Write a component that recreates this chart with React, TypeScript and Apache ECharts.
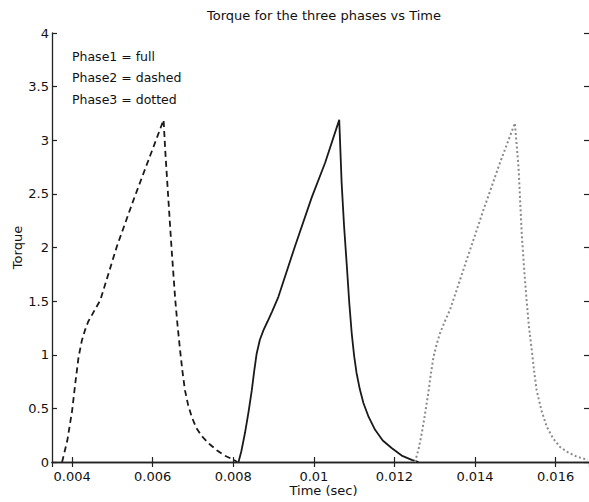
import React, { useEffect, useRef } from "react";
import * as echarts from "echarts";

const titleText = "Torque for the three phases vs Time";
const xName = "Time (sec)";
const yName = "Torque";
const legendLines = ["Phase1 = full", "Phase2 = dashed", "Phase3 = dotted"];

// Phase 1 (solid)
const phase1T = [0.00813, 0.0082, 0.00829, 0.00838, 0.00846, 0.00852, 0.00858, 0.00866, 0.00875, 0.00885, 0.00896, 0.00912, 0.00953, 0.00995, 0.01028, 0.01063, 0.01069, 0.01075, 0.01082, 0.01088, 0.01094, 0.011, 0.01106, 0.01114, 0.01123, 0.01136, 0.01152, 0.01171, 0.01193, 0.01218, 0.01243, 0.0126];
const phase1V = [0, 0.1, 0.27, 0.47, 0.67, 0.85, 1.01, 1.14, 1.23, 1.31, 1.4, 1.54, 2.01, 2.47, 2.79, 3.19, 2.6, 2.2, 1.82, 1.48, 1.2, 0.99, 0.83, 0.68, 0.55, 0.42, 0.3, 0.2, 0.13, 0.06, 0.02, 0];

// Phase 2 (dashed)
const phase2T = [0.00375, 0.00388, 0.004, 0.00408, 0.00416, 0.00424, 0.00432, 0.0044, 0.00449, 0.0047, 0.00511, 0.00552, 0.00594, 0.00627, 0.00631, 0.00639, 0.00647, 0.00656, 0.00662, 0.00668, 0.00674, 0.0068, 0.00688, 0.00697, 0.00708, 0.00722, 0.0074, 0.00759, 0.00778, 0.00796, 0.0081];
const phase2V = [0, 0.2, 0.48, 0.74, 0.98, 1.13, 1.23, 1.31, 1.37, 1.51, 2.01, 2.44, 2.86, 3.19, 2.91, 2.44, 1.98, 1.51, 1.26, 1.04, 0.84, 0.67, 0.53, 0.42, 0.32, 0.24, 0.17, 0.11, 0.06, 0.03, 0];

// Phase 3 (dotted)
const phase3T = [0.01251, 0.0126, 0.01268, 0.01276, 0.01284, 0.0129, 0.01297, 0.01305, 0.01313, 0.01325, 0.01338, 0.01379, 0.01421, 0.01462, 0.01499, 0.01508, 0.01516, 0.01522, 0.01528, 0.01534, 0.01541, 0.01547, 0.01553, 0.01565, 0.01578, 0.01594, 0.01611, 0.01631, 0.01652, 0.0168];
const phase3V = [0, 0.12, 0.27, 0.45, 0.64, 0.81, 0.98, 1.1, 1.2, 1.31, 1.42, 1.88, 2.35, 2.79, 3.16, 2.75, 2.13, 1.8, 1.51, 1.26, 1.04, 0.84, 0.67, 0.48, 0.33, 0.22, 0.14, 0.09, 0.05, 0.02];

const xMin = 0.0035;
const xMax = 0.01683;
const yMin = 0;
const yMax = 4;
const yStep = 0.5;
const xStep = 0.002;

const FONT = "'DejaVu Sans', 'Liberation Sans', Arial, sans-serif";
const FS = 13;

const zip = (t: number[], v: number[]) => t.map((x, i) => [x, v[i]]);

export default function App() {
  const ref = useRef<HTMLDivElement>(null);
  useEffect(() => {
    if (!ref.current) return;
    const chart = echarts.init(ref.current, undefined, { renderer: "svg" });
    const axisLine = { show: true, lineStyle: { color: "#222", width: 1.3 } };
    const xFmt = (v: number) => parseFloat(v.toFixed(4)).toString();
    const baseX = {
      type: "value" as const,
      min: xMin,
      max: xMax,
      splitNumber: 7,
      minInterval: xStep,
      maxInterval: xStep,
      splitLine: { show: false },
      axisLine,
      axisTick: { show: true, inside: true, length: 5, lineStyle: { color: "#222", width: 1.2 } },
    };
    const baseY = {
      type: "value" as const,
      min: yMin,
      max: yMax,
      interval: yStep,
      splitLine: { show: false },
      axisLine,
      axisTick: { show: true, inside: true, length: 5, lineStyle: { color: "#222", width: 1.2 } },
    };
    chart.setOption({
      animation: false,
      backgroundColor: "#fff",
      title: {
        text: titleText,
        left: 207,
        top: 9,
        padding: 0,
        textStyle: { fontFamily: FONT, fontSize: FS, fontWeight: "normal", color: "#111" },
      },
      grid: { left: 52, right: 0, top: 33, bottom: 40, containLabel: false, outerBoundsMode: "none" },
      xAxis: [
        {
          ...baseX,
          position: "bottom",
          name: xName,
          nameLocation: "middle",
          nameGap: 22,
          nameMoveOverlap: false,
          nameTextStyle: { fontFamily: FONT, fontSize: FS, color: "#111", padding: [0, 0, 0, 6] },
          axisLabel: {
            show: true,
            margin: 8,
            fontFamily: FONT,
            fontSize: FS,
            color: "#111",
            showMinLabel: false,
            showMaxLabel: false,
            formatter: xFmt,
          },
        },
        {
          ...baseX,
          position: "top",
          axisLabel: { show: false },
        },
      ],
      yAxis: [
        {
          ...baseY,
          position: "left",
          name: yName,
          nameLocation: "middle",
          nameGap: 28,
          nameMoveOverlap: false,
          nameRotate: 90,
          nameTextStyle: { fontFamily: FONT, fontSize: FS, color: "#111" },
          axisLabel: { show: true, margin: 3, fontFamily: FONT, fontSize: FS, color: "#111" },
        },
        {
          ...baseY,
          position: "right",
          axisLine: { show: true, lineStyle: { color: "#999", width: 1 } },
          axisLabel: { show: false },
        },
      ],
      graphic: legendLines.map((s, i) => ({
        type: "text",
        left: 72,
        top: 49.5 + i * 21.5,
        style: { text: s, fontFamily: FONT, fontSize: 12.5, fill: "#111" },
      })),
      series: [
        {
          name: "Phase1",
          type: "line",
          data: zip(phase1T, phase1V),
          showSymbol: false,
          lineStyle: { color: "#1a1a1a", width: 1.8, type: "solid" },
        },
        {
          name: "Phase2",
          type: "line",
          data: zip(phase2T, phase2V),
          showSymbol: false,
          lineStyle: { color: "#1a1a1a", width: 1.8, type: [6, 4] },
        },
        {
          name: "Phase3",
          type: "line",
          data: zip(phase3T, phase3V),
          showSymbol: false,
          lineStyle: { color: "#8a8a8a", width: 2, type: [2, 2.5] },
        },
      ],
    });
    return () => chart.dispose();
  }, []);
  return <div ref={ref} style={{ position: "fixed", left: 0, top: 0, width: 589, height: 502 }} />;
}
